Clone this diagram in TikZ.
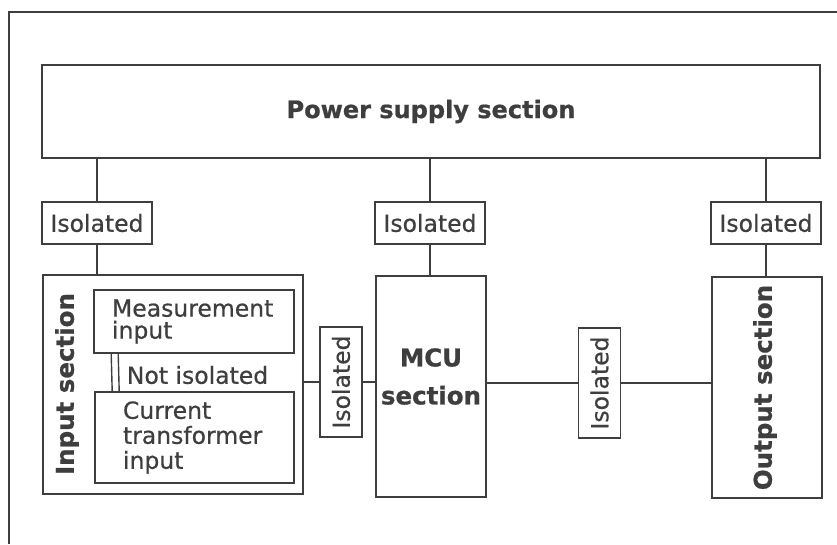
\documentclass[tikz,border=0pt]{standalone}
\usepackage{fontspec}
\setmainfont{DejaVu Sans}[FakeBold=0.6, BoldFeatures={FakeBold=0.8}]
\usepackage{xcolor}
\usepackage{tikz}
\usetikzlibrary{calc}
\definecolor{inkgray}{RGB}{62,62,62}
\tikzset{every node/.append style={align=center}}
\tikzset{
  pwr/.style={rectangle, draw=inkgray, line width=1.8pt, minimum width=778pt, minimum height=93pt,
    inner sep=0pt, font=\fontsize{24}{28}\selectfont\bfseries, text=inkgray},
  sec/.style={rectangle, draw=inkgray, line width=1.8pt, minimum width=110pt, minimum height=221pt,
    inner sep=0pt},
  iso/.style={rectangle, draw=inkgray, line width=1.6pt, minimum width=110pt, minimum height=42pt,
    inner sep=0pt, font=\fontsize{23.5}{26}\selectfont, text=inkgray},
  isov/.style={iso, rotate=90},
  sub/.style={rectangle, draw=inkgray, line width=1.6pt, align=left, inner ysep=0pt,
    font=\fontsize{23.5}{22}\selectfont, text=inkgray},
  big/.style={font=\fontsize{24.5}{38}\selectfont\bfseries, text=inkgray, inner sep=0pt},
  txt/.style={font=\fontsize{23.5}{26}\selectfont, text=inkgray, inner sep=0pt},
  wire/.style={draw=inkgray, line width=1.4pt}
}
\begin{document}
\begin{tikzpicture}[x=1pt, y=-1pt]
  \useasboundingbox (0,0) rectangle (837,544);
  % outer frame
  \draw[inkgray, line width=2pt] (837,12) -- (9,12) -- (9,544);

  \node[pwr] (power) at (431,111.5) {Power supply section};
  \node[iso] (isoL) at (97,223) {Isolated};
  \node[iso] (isoM) at (430,223) {Isolated};
  \node[iso] (isoR) at (766,223) {Isolated};

  \node[sec, minimum width=260pt, minimum height=219pt] (inp) at (173,384.5) {};
  \node[sec] (mcu) at (431,386.5) {};
  \node[sec] (out) at (767,387.5) {};
  \node[big, rotate=90] (inptxt) at (67,384) {Input section};
  \node[big] (mcutxt) at ([yshift=10pt]mcu.center) {MCU\\section};
  \node[big, rotate=90] (outtxt) at ([xshift=-2pt]out.center) {Output section};

  \node[sub, minimum height=63pt, text width=164pt, inner xsep=18pt] (meas) at (194,321.5) {Measurement\\input};
  \node[sub, minimum height=91pt, text width=143pt, inner xsep=28pt,
    font=\fontsize{23.5}{25}\selectfont] (ct) at (194.5,437.5) {Current\\transformer\\input};
  \node[txt, anchor=west] (notiso) at ($(meas.south west)!0.5!(ct.north west)+(33,2.5)$) {Not isolated};

  \node[isov] (isoA) at (341,382) {Isolated};
  \node[isov] (isoB) at (599.5,383) {Isolated};

  % power feeds
  \draw[wire] (power.south -| isoL) -- (isoL);
  \draw[wire] (isoL) -- (isoL |- inp.north);
  \draw[wire] (power.south -| isoM) -- (isoM);
  \draw[wire] (isoM) -- (isoM |- mcu.north);
  \draw[wire] (power.south -| isoR) -- (isoR);
  \draw[wire] (isoR) -- (isoR |- out.north);
  % signal path
  \draw[wire] (isoA) -- (isoA -| inp.east);
  \draw[wire] (isoA) -- (isoA -| mcu.west);
  \draw[wire] (isoB) -- (isoB -| mcu.east);
  \draw[wire] (isoB) -- (isoB -| out.west);
  % not isolated link
  \draw[wire] ([xshift=18pt]meas.south west) -- ([xshift=18pt]ct.north west);
  \draw[wire] ([xshift=25pt]meas.south west) -- ([xshift=25pt]ct.north west);
\end{tikzpicture}
\end{document}
